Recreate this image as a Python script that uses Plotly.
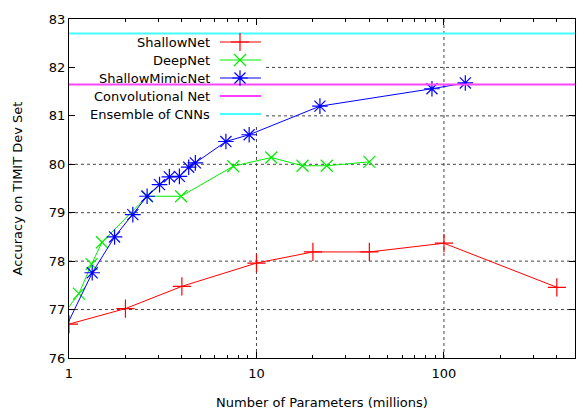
import plotly.graph_objects as go
import math

# ---------------- data ----------------
shallow_params = [1, 2, 4, 10, 20, 40, 100, 400]
shallow_acc = [76.70, 77.02, 77.48, 77.96, 78.19, 78.19, 78.37, 77.46]

deep_params = [0.9, 1.13, 1.32, 1.50, 2.61, 3.96, 7.52, 12.0, 17.6, 23.7, 40]
deep_acc = [76.82, 77.33, 77.94, 78.39, 79.34, 79.34, 79.96, 80.14, 79.97, 79.97, 80.05]

mimic_params = [0.9, 1.33, 1.75, 2.19, 2.61, 3.04, 3.43, 3.88, 4.35, 4.72, 6.87, 9.14, 21.8, 86.3, 130]
mimic_acc = [76.40, 77.76, 78.50, 78.96, 79.34, 79.58, 79.74, 79.75, 79.94, 80.03, 80.47, 80.61, 81.20, 81.56, 81.68]

conv_net_acc = 81.65
ensemble_acc = 82.70

x_range = [1, 500]
y_range = [76, 83]
y_ticks = [76, 77, 78, 79, 80, 81, 82, 83]
y_grid = [77, 78, 79, 80, 81, 82]
x_ticks = [1, 10, 100]
x_ticklabels = ["1", "10", "100"]
x_grid = [10, 100]
x_minor = [2, 3, 4, 5, 6, 7, 8, 9, 20, 30, 40, 50, 60, 70, 80, 90, 200, 300, 400]

series_names = ["ShallowNet", "DeepNet", "ShallowMimicNet", "Convolutional Net", "Ensemble of CNNs"]

# ---------------- styles ----------------
FONT = "DejaVu Sans"
FS = 13
RED = "#ff0000"
GREEN = "#00ee00"
BLUE = "#0000ff"
MAGENTA = "#ff44ff"
CYAN = "#44ffff"
GRID = "#444444"

W, H = 578, 410
L, R, T, B = 69, 3, 19, 52

# key box (pixels)
KEY_RIGHT = 266
KEY_BOTTOM = 124

fig = go.Figure()

def marker(sym, size, col):
    return dict(symbol=sym, size=size, color=col, line=dict(color=col, width=1.2))

fig.add_trace(go.Scatter(
    x=shallow_params, y=shallow_acc, mode="lines+markers", name=series_names[0],
    line=dict(color=RED, width=1), marker=marker("cross-thin-open", 13, RED),
    showlegend=False))
fig.add_trace(go.Scatter(
    x=deep_params, y=deep_acc, mode="lines+markers", name=series_names[1],
    line=dict(color=GREEN, width=1), marker=marker("x-thin-open", 12, GREEN),
    showlegend=False))
fig.add_trace(go.Scatter(
    x=mimic_params, y=mimic_acc, mode="lines+markers", name=series_names[2],
    line=dict(color=BLUE, width=1), marker=marker("asterisk-open", 13, BLUE),
    showlegend=False))
fig.add_trace(go.Scatter(
    x=x_range, y=[conv_net_acc, conv_net_acc], mode="lines", name=series_names[3],
    line=dict(color=MAGENTA, width=2), showlegend=False))
fig.add_trace(go.Scatter(
    x=x_range, y=[ensemble_acc, ensemble_acc], mode="lines", name=series_names[4],
    line=dict(color=CYAN, width=2), showlegend=False))

# ---------------- dotted grid (interrupted by the key box, as in gnuplot) ----------------
for gy in y_grid:
    y_px = (H - B) - (gy - y_range[0]) / (y_range[1] - y_range[0]) * (H - B - T)
    x_start = KEY_RIGHT if y_px < KEY_BOTTOM else L
    fig.add_shape(type="line", xref="x2", yref="y", x0=x_start, x1=W - R, y0=gy, y1=gy,
                  line=dict(color=GRID, width=1, dash="dot"), layer="below")
for gx in x_grid:
    x_px = L + math.log10(gx / x_range[0]) / math.log10(x_range[1] / x_range[0]) * (W - L - R)
    y_end = KEY_BOTTOM if x_px < KEY_RIGHT else T
    fig.add_shape(type="line", xref="x", yref="y2", x0=gx, x1=gx, y0=H - B, y1=y_end,
                  line=dict(color=GRID, width=1, dash="dot"), layer="below")

# ---------------- gnuplot-style key (pixel coordinates on an overlay axis) ----------------
key_rows = [42, 60, 78, 96, 114]
key_text_right = 212
key_line = [220, 261]
key_mark_x = 240
key_styles = [
    (RED, "cross-thin-open", 13),
    (GREEN, "x-thin-open", 12),
    (BLUE, "asterisk-open", 13),
    (MAGENTA, None, 0),
    (CYAN, None, 0),
]
for name, row, (col, sym, sz) in zip(series_names, key_rows, key_styles):
    lw = 1 if sym else 2
    fig.add_trace(go.Scatter(
        x=key_line, y=[row, row], mode="lines", line=dict(color=col, width=lw),
        xaxis="x2", yaxis="y2", showlegend=False, hoverinfo="skip"))
    if sym:
        fig.add_trace(go.Scatter(
            x=[key_mark_x], y=[row], mode="markers", marker=marker(sym, sz, col),
            xaxis="x2", yaxis="y2", showlegend=False, hoverinfo="skip"))
    fig.add_annotation(
        x=key_text_right, y=row, xref="x2", yref="y2", text=name, showarrow=False,
        xanchor="right", yanchor="middle", font=dict(family=FONT, size=FS, color="black"))

axis_common = dict(
    showline=True, linecolor="black", linewidth=1, mirror="ticks",
    ticks="inside", ticklen=6, tickcolor="black", tickwidth=1,
    showgrid=False, zeroline=False,
    tickfont=dict(family=FONT, size=FS, color="black"),
)

fig.update_layout(
    width=W, height=H,
    margin=dict(l=L, r=R, t=T, b=B, autoexpand=False),
    paper_bgcolor="white", plot_bgcolor="white",
    font=dict(family=FONT, size=FS, color="black"),
    xaxis=dict(
        type="log", range=[math.log10(x_range[0]), math.log10(x_range[1])],
        tickvals=x_ticks, ticktext=x_ticklabels,
        minor=dict(tickvals=x_minor, ticks="inside", ticklen=3, tickcolor="black", showgrid=False),
        title=dict(text="Number of Parameters (millions)", standoff=24,
                   font=dict(family=FONT, size=FS, color="black")),
        ticklabelstandoff=3,
        automargin=False,
        **axis_common),
    yaxis=dict(
        range=y_range, tickvals=y_ticks,
        title=dict(text="Accuracy on TIMIT Dev Set", standoff=23,
                   font=dict(family=FONT, size=FS, color="black")),
        automargin=False,
        **axis_common),
    xaxis2=dict(range=[L, W - R], overlaying="x", visible=False, fixedrange=True),
    yaxis2=dict(range=[H - B, T], overlaying="y", visible=False, fixedrange=True),
)

fig.write_html(
    "out.html",
    config={"displayModeBar": False},
    post_script="document.documentElement.style.margin='0';document.body.style.margin='0';"
                "document.body.style.padding='0';document.body.style.overflow='hidden';",
)
